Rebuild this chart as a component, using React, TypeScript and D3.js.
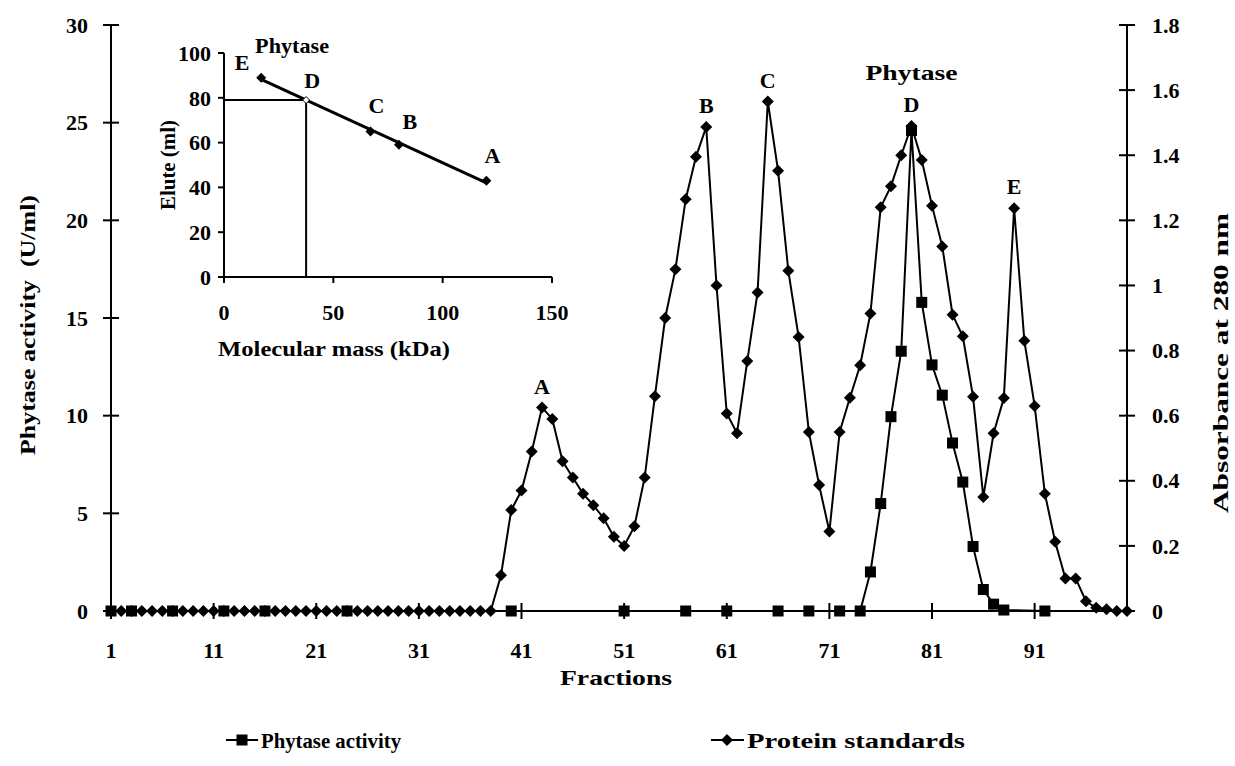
import React from "react";
import * as d3 from "d3";

// Fractions collected from the gel filtration column
const fractions = [
  1, 2, 3, 4, 5, 6, 7, 8, 9, 10, 11, 12, 13, 14, 15, 16, 17, 18, 19, 20,
  21, 22, 23, 24, 25, 26, 27, 28, 29, 30, 31, 32, 33, 34, 35, 36, 37, 38, 39, 40,
  41, 42, 43, 44, 45, 46, 47, 48, 49, 50, 51, 52, 53, 54, 55, 56, 57, 58, 59, 60,
  61, 62, 63, 64, 65, 66, 67, 68, 69, 70, 71, 72, 73, 74, 75, 76, 77, 78, 79, 80,
  81, 82, 83, 84, 85, 86, 87, 88, 89, 90, 91, 92, 93, 94, 95, 96, 97, 98, 99, 100,
];

// Absorbance at 280 nm of the protein standards, one value per fraction
const proteinAbs = [
  0, 0, 0, 0, 0, 0, 0, 0, 0, 0, 0, 0, 0, 0, 0, 0, 0, 0, 0, 0,
  0, 0, 0, 0, 0, 0, 0, 0, 0, 0, 0, 0, 0, 0, 0, 0, 0, 0, 0.11, 0.31,
  0.37, 0.49, 0.625, 0.59, 0.46, 0.41, 0.36, 0.325, 0.285, 0.228, 0.2, 0.26, 0.41, 0.66, 0.9, 1.05, 1.265, 1.395, 1.487, 1.0,
  0.607, 0.546, 0.768, 0.978, 1.565, 1.352, 1.045, 0.842, 0.55, 0.387, 0.244, 0.55, 0.655, 0.755, 0.914, 1.24, 1.305, 1.4, 1.49, 1.385,
  1.245, 1.12, 0.91, 0.844, 0.658, 0.35, 0.546, 0.654, 1.237, 0.83, 0.63, 0.36, 0.213, 0.1, 0.1, 0.03, 0.01, 0.005, 0, 0,
];

// Phytase activity (U/ml), assayed on selected fractions
const activityFractions = [
  1, 3, 7, 12, 16, 24, 40, 51, 57, 61, 66, 69, 72, 74, 75, 76, 77, 78, 79, 80,
  81, 82, 83, 84, 85, 86, 87, 88, 92,
];
const activityValues = [
  0, 0, 0, 0, 0, 0, 0, 0, 0, 0, 0, 0, 0, 0, 2.0, 5.5, 9.95, 13.3, 24.6, 15.8,
  12.6, 11.05, 8.6, 6.6, 3.3, 1.1, 0.35, 0.05, 0,
];

// Peak annotations on the elution profile
const peakLabels = ["A", "B", "C", "D", "E"];
const peakFractions = [43, 59, 65, 79, 89];

// Axis ticks
const leftTicks = [0, 5, 10, 15, 20, 25, 30];
const rightTicks = [0, 0.2, 0.4, 0.6, 0.8, 1, 1.2, 1.4, 1.6, 1.8];
const xTickFractions = [1, 11, 21, 31, 41, 51, 61, 71, 81, 91];

// Calibration inset: molecular mass of the standards versus elution volume
const standardNames = ["E", "C", "B", "A"];
const standardMass = [17, 67, 80, 120];
const standardElute = [89, 65, 59, 43];
const phytaseElute = 79;
const insetXTicks = [0, 50, 100, 150];
const insetYTicks = [0, 20, 40, 60, 80, 100];

const FONT = "'Liberation Serif', 'Times New Roman', serif";

const diamond = (s: number) => `M0,${-s}L${s},0L0,${s}L${-s},0Z`;

// offsets of the standard labels in the inset, relative to their points
const standardLabelDx: Record<string, number> = { E: -19, C: 6, B: 11, A: 6 };
const standardLabelDy: Record<string, number> = { E: -8, C: -18, B: -16, A: -18 };

export default function App() {
  const W = 1235;
  const H = 766;

  const x = d3.scaleLinear().domain([1, 100]).range([111, 1127]);
  const yL = d3.scaleLinear().domain([0, 30]).range([611, 25]);
  const yR = d3.scaleLinear().domain([0, 1.8]).range([611, 25]);

  const proteinLine = d3
    .line<number>()
    .x((_, i) => x(fractions[i]))
    .y((d) => yR(d))(proteinAbs) as string;

  const activityLine = d3
    .line<number>()
    .x((_, i) => x(activityFractions[i]))
    .y((d) => yL(d))(activityValues) as string;

  // inset scales
  const ix = d3.scaleLinear().domain([0, 150]).range([224, 552]);
  const iy = d3.scaleLinear().domain([0, 100]).range([277, 53]);

  // least-squares calibration line
  const mx = d3.mean(standardMass) as number;
  const my = d3.mean(standardElute) as number;
  let sxy = 0;
  let sxx = 0;
  standardMass.forEach((m, i) => {
    sxy += (m - mx) * (standardElute[i] - my);
    sxx += (m - mx) * (m - mx);
  });
  const slope = sxy / sxx;
  const icpt = my - slope * mx;
  const fit = (m: number) => icpt + slope * m;
  const phytaseMass = (phytaseElute - icpt) / slope;
  const massExtent = d3.extent(standardMass) as [number, number];

  const bold = { fontFamily: FONT, fontWeight: 700 as const, fill: "#000" };
  const fit_ = { lengthAdjust: "spacingAndGlyphs" as const };

  return (
    <svg
      width={W}
      height={H}
      viewBox={`0 0 ${W} ${H}`}
      style={{ position: "absolute", left: 0, top: 0, background: "#fff" }}
    >
      <rect width={W} height={H} fill="#fff" />

      {/* main axes */}
      <g stroke="#000" strokeWidth={2} fill="none">
        <line x1={x(1)} x2={x(1)} y1={yL(30)} y2={yL(0)} />
        <line x1={x(100)} x2={x(100)} y1={yR(1.8)} y2={yR(0)} />
        <line x1={x(1)} x2={x(100)} y1={yL(0)} y2={yL(0)} />
        {leftTicks.map((t) => (
          <line key={`lt${t}`} x1={x(1) - 8} x2={x(1) + 8} y1={yL(t)} y2={yL(t)} />
        ))}
        {rightTicks.map((t) => (
          <line key={`rt${t}`} x1={x(100) - 8} x2={x(100) + 8} y1={yR(t)} y2={yR(t)} />
        ))}
        {xTickFractions.map((f) => (
          <line key={`xt${f}`} x1={x(f)} x2={x(f)} y1={yL(0) - 8} y2={yL(0) + 8} />
        ))}
      </g>

      {/* tick labels */}
      <g {...bold} fontSize={22}>
        {leftTicks.map((t) => (
          <text key={`ll${t}`} x={88} y={yL(t)} dy="0.35em" textAnchor="end">
            {t}
          </text>
        ))}
        {rightTicks.map((t) => (
          <text key={`rl${t}`} x={1152} y={yR(t)} dy="0.35em" textAnchor="start">
            {d3.format("~g")(t)}
          </text>
        ))}
        {xTickFractions.map((f) => (
          <text key={`xl${f}`} x={x(f)} y={658} textAnchor="middle">
            {f}
          </text>
        ))}
      </g>

      {/* axis titles */}
      <g {...bold} fontSize={22} textAnchor="middle">
        <text
          transform={`translate(27,325) rotate(-90)`}
          dy="0.35em"
          textLength={260}
          {...fit_}
          style={{ whiteSpace: "pre" }}
        >
          Phytase activity  (U/ml)
        </text>
        <text transform={`translate(1220,363) rotate(-90)`} dy="0.35em" textLength={300} {...fit_}>
          Absorbance at 280 nm
        </text>
        <text x={616} y={685} textLength={112} {...fit_}>
          Fractions
        </text>
      </g>

      {/* protein standards series */}
      <path d={proteinLine} fill="none" stroke="#000" strokeWidth={2} />
      {proteinAbs.map((v, i) => (
        <path
          key={`pd${i}`}
          d={diamond(6)}
          transform={`translate(${x(fractions[i])},${yR(v)})`}
          fill="#000"
        />
      ))}

      {/* phytase activity series */}
      <path d={activityLine} fill="none" stroke="#000" strokeWidth={2} />
      {activityValues.map((v, i) => (
        <rect
          key={`as${i}`}
          x={x(activityFractions[i]) - 5.5}
          y={yL(v) - 5.5}
          width={11}
          height={11}
          fill="#000"
        />
      ))}

      {/* peak labels */}
      <g {...bold} fontSize={22} textAnchor="middle">
        {peakFractions.map((f, i) => (
          <text key={`pk${i}`} x={x(f)} y={yR(proteinAbs[f - 1]) - 14}>
            {peakLabels[i]}
          </text>
        ))}
        <text x={x(79)} y={yR(proteinAbs[78]) - 46} textLength={92} {...fit_}>
          Phytase
        </text>
      </g>

      {/* calibration inset */}
      <g stroke="#000" strokeWidth={2} fill="none">
        <line x1={ix(0)} x2={ix(0)} y1={iy(0)} y2={iy(100)} />
        <line x1={ix(0)} x2={ix(150)} y1={iy(0)} y2={iy(0)} />
        {insetYTicks.map((t) => (
          <line key={`iyt${t}`} x1={ix(0) - 6} x2={ix(0)} y1={iy(t)} y2={iy(t)} />
        ))}
        {insetXTicks.map((t) => (
          <line key={`ixt${t}`} x1={ix(t)} x2={ix(t)} y1={iy(0)} y2={iy(0) + 6} />
        ))}
        {/* phytase read-off lines */}
        <line x1={ix(0)} x2={ix(phytaseMass)} y1={iy(phytaseElute)} y2={iy(phytaseElute)} />
        <line x1={ix(phytaseMass)} x2={ix(phytaseMass)} y1={iy(phytaseElute)} y2={iy(0)} />
        {/* calibration line */}
        <line
          x1={ix(massExtent[0])}
          y1={iy(fit(massExtent[0]))}
          x2={ix(massExtent[1])}
          y2={iy(fit(massExtent[1]))}
          strokeWidth={3}
        />
      </g>
      {standardMass.map((m, i) => (
        <path
          key={`sd${i}`}
          d={diamond(5)}
          transform={`translate(${ix(m)},${iy(standardElute[i])})`}
          fill="#000"
        />
      ))}
      <path
        d={diamond(3.5)}
        transform={`translate(${ix(phytaseMass)},${iy(phytaseElute)})`}
        fill="#fff"
        stroke="#000"
        strokeWidth={1}
      />
      <g {...bold} fontSize={22}>
        {insetYTicks.map((t) => (
          <text key={`iyl${t}`} x={ix(0) - 13} y={iy(t)} dy="0.35em" textAnchor="end">
            {t}
          </text>
        ))}
        {insetXTicks.map((t) => (
          <text key={`ixl${t}`} x={ix(t)} y={iy(0) + 43} textAnchor="middle">
            {t}
          </text>
        ))}
        <text x={334} y={iy(0) + 79} textAnchor="middle" textLength={232} {...fit_}>
          Molecular mass (kDa)
        </text>
        <text
          transform={`translate(167,165) rotate(-90)`}
          dy="0.35em"
          textAnchor="middle"
          textLength={90}
          {...fit_}
        >
          Elute (ml)
        </text>
        {standardMass.map((m, i) => (
          <text
            key={`snl${i}`}
            x={ix(m) + standardLabelDx[standardNames[i]]}
            y={iy(standardElute[i]) + standardLabelDy[standardNames[i]]}
            textAnchor="middle"
          >
            {standardNames[i]}
          </text>
        ))}
        <text x={ix(phytaseMass) + 6} y={iy(phytaseElute) - 12} textAnchor="middle">
          D
        </text>
        <text
          x={ix(phytaseMass) - 14}
          y={iy(phytaseElute) - 47}
          textAnchor="middle"
          textLength={74}
          {...fit_}
        >
          Phytase
        </text>
      </g>

      {/* legend */}
      <g>
        <line x1={226} x2={258} y1={740} y2={740} stroke="#000" strokeWidth={2} />
        <rect x={236.5} y={734.5} width={11} height={11} fill="#000" />
        <text {...bold} fontSize={22} x={261} y={748} textLength={140} {...fit_}>
          Phytase activity
        </text>
        <line x1={711} x2={744} y1={740} y2={740} stroke="#000" strokeWidth={2} />
        <path d={diamond(6)} transform="translate(727,740)" fill="#000" />
        <text {...bold} fontSize={22} x={747} y={748} textLength={218} {...fit_}>
          Protein standards
        </text>
      </g>
    </svg>
  );
}
